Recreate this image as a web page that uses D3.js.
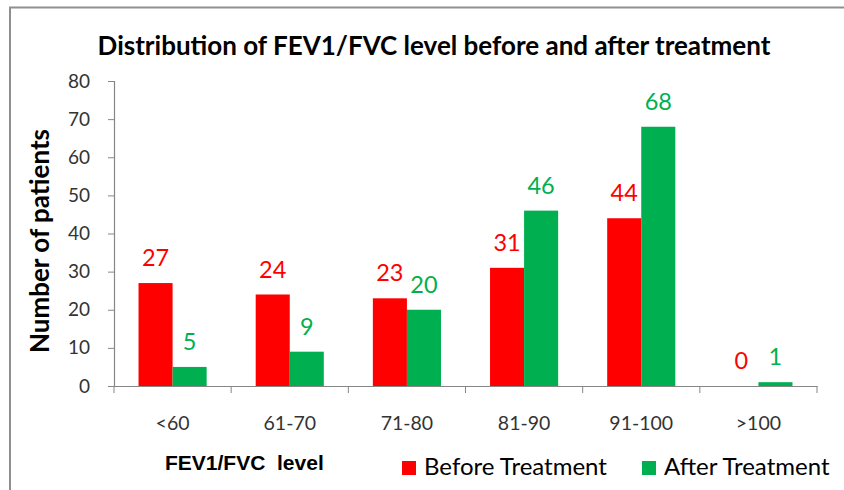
<!DOCTYPE html>
<html>
<head>
<meta charset="utf-8">
<script src="https://cdn.jsdelivr.net/npm/d3@7"></script>
<style>
  body { margin: 0; background: #fff; }
  svg { display: block; }
</style>
</head>
<body>
<div id="chart"></div>
<script>
// data
const categories = ['<60', '61-70', '71-80', '81-90', '91-100', '>100'];
const series = ['Before Treatment', 'After Treatment'];
const beforeValues = [27, 24, 23, 31, 44, 0];
const afterValues = [5, 9, 20, 46, 68, 1];
const yTicks = [0, 10, 20, 30, 40, 50, 60, 70, 80];
const colors = ['#FF0000', '#00B050'];

const W = 844, H = 490;
const margin = {top: 81, right: 27, bottom: 104, left: 114};
const width = W - margin.left - margin.right;
const height = H - margin.top - margin.bottom;

const svg = d3.select('#chart').append('svg')
  .attr('width', W)
  .attr('height', H);

// outer frame (only left + top visible in the picture)
svg.append('path')
  .attr('d', `M10,${H} V7.5 H${W}`)
  .attr('fill', 'none')
  .attr('stroke', '#8f8f8f')
  .attr('stroke-width', 2);

svg.append('text')
  .attr('x', 434)
  .attr('y', 55)
  .attr('text-anchor', 'middle')
  .style('font-family', 'Lato')
  .style('font-weight', 'bold')
  .style('font-size', '26px')
  .attr('fill', '#000')
  .text('Distribution of FEV1/FVC level before and after treatment');

const g = svg.append('g')
  .attr('transform', `translate(${margin.left},${margin.top})`);

const x0 = d3.scaleBand()
  .domain(categories)
  .range([0, width])
  .padding(0);

const x1 = d3.scaleBand()
  .domain(series)
  .range([0, x0.bandwidth()])
  .paddingInner(0)
  .paddingOuter(0.72);

const y = d3.scaleLinear()
  .domain([0, 80])
  .range([height, 0]);

// y axis
const yAxis = g.append('g')
  .call(d3.axisLeft(y).tickValues(yTicks).tickSize(6).tickPadding(18));
yAxis.select('.domain').attr('stroke', '#868686').attr('stroke-width', 1.2);
yAxis.selectAll('.tick line').attr('stroke', '#868686');
yAxis.selectAll('.tick text')
  .style('font-family', 'Lato')
  .style('font-size', '19px')
  .attr('fill', '#333');

// x axis: ticks at category boundaries
const xAxis = g.append('g')
  .attr('transform', `translate(0,${height})`)
  .call(d3.axisBottom(x0).tickSize(0).tickPadding(30));
xAxis.select('.domain').attr('stroke', '#868686').attr('stroke-width', 1.2);
xAxis.selectAll('.tick text')
  .style('font-family', 'Lato')
  .style('font-size', '19.5px')
  .attr('fill', '#333');
xAxis.selectAll('.boundary')
  .data(categories.concat(['end']))
  .join('line')
  .attr('class', 'boundary')
  .attr('x1', (d, i) => i * x0.step())
  .attr('x2', (d, i) => i * x0.step())
  .attr('y1', 0)
  .attr('y2', 7)
  .attr('stroke', '#868686');

// bars
const rows = categories.map((c, i) => ({cat: c, vals: [beforeValues[i], afterValues[i]]}));

const groups = g.selectAll('.group')
  .data(rows)
  .join('g')
  .attr('class', 'group')
  .attr('transform', d => `translate(${x0(d.cat)},0)`);

groups.selectAll('rect')
  .data(d => d.vals.map((v, j) => ({key: series[j], v: v, j: j})))
  .join('rect')
  .attr('x', d => x1(d.key))
  .attr('y', d => y(d.v))
  .attr('width', x1.bandwidth())
  .attr('height', d => height - y(d.v))
  .attr('fill', d => colors[d.j]);

groups.selectAll('.val')
  .data(d => d.vals.map((v, j) => ({key: series[j], v: v, j: j})))
  .join('text')
  .attr('class', 'val')
  .attr('x', d => x1(d.key) + x1.bandwidth() / 2)
  .attr('y', d => y(d.v) - 17)
  .attr('text-anchor', 'middle')
  .style('font-family', 'Lato')
  .style('font-size', '23.5px')
  .attr('fill', d => colors[d.j])
  .text(d => d.v);

// y axis title
svg.append('text')
  .attr('transform', 'translate(49,241) rotate(-90)')
  .attr('text-anchor', 'middle')
  .style('font-family', 'Lato')
  .style('font-weight', 'bold')
  .style('font-size', '26px')
  .attr('fill', '#000')
  .text('Number of patients');

// x axis title
svg.append('text')
  .attr('x', 165)
  .attr('y', 470)
  .style('font-family', 'Liberation Sans')
  .style('font-weight', 'bold')
  .style('font-size', '21px')
  .attr('fill', '#000')
  .text('FEV1/FVC\u00a0\u00a0level');

// legend
const legendX = [402, 642];
const legend = svg.selectAll('.legend')
  .data(series)
  .join('g')
  .attr('class', 'legend')
  .attr('transform', (d, i) => `translate(${legendX[i]},461)`);

legend.append('rect')
  .attr('width', 14)
  .attr('height', 14)
  .attr('fill', (d, i) => colors[i]);

legend.append('text')
  .attr('x', 22)
  .attr('y', 14)
  .style('font-family', 'Lato')
  .style('font-size', '24px')
  .attr('fill', '#000')
  .text(d => d);
</script>
</body>
</html>
